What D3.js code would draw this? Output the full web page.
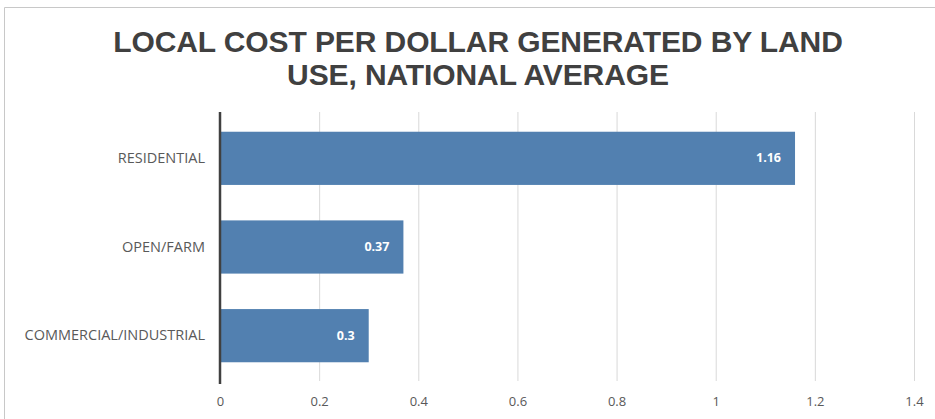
<!DOCTYPE html>
<meta charset="utf-8">
<style>
body { margin: 0; background: #fff; }
.cat text { font-family: "Open Sans", "Noto Sans", sans-serif; font-size: 14.5px; fill: #595959; }
.val text { font-family: "Open Sans", "Noto Sans", sans-serif; font-size: 13px; fill: #595959; }
.title { font-family: "Liberation Sans", Arial, sans-serif; font-weight: bold; font-size: 30px; fill: #404040; letter-spacing: -0.1px; }
.barlabel { font-family: "Open Sans", sans-serif; font-weight: bold; font-size: 12.5px; fill: #fff; }
</style>
<body>
<script src="https://cdn.jsdelivr.net/npm/d3@7"></script>
<script>

var width = 935,
    height = 419;

var categories = ["RESIDENTIAL", "OPEN/FARM", "COMMERCIAL/INDUSTRIAL"];
var values = [1.16, 0.37, 0.3];
var ticks = [0, 0.2, 0.4, 0.6, 0.8, 1, 1.2, 1.4];
var titleLines = ["LOCAL COST PER DOLLAR GENERATED BY LAND", "USE, NATIONAL AVERAGE"];

var svg = d3.select("body").append("svg")
    .attr("width", width)
    .attr("height", height);

// frame of the chart area
svg.append("path")
    .attr("d", "M4.5," + height + "V7.5H" + width)
    .attr("fill", "none")
    .attr("stroke", "#c8c8c8");

svg.selectAll(".title")
  .data(titleLines)
  .enter().append("text")
    .attr("class", "title")
    .attr("x", 478)
    .attr("y", function(d, i){ return 52 + i * 33; })
    .attr("text-anchor", "middle")
    .text(function(d){ return d; });

var x = d3.scaleLinear().domain([0, 1.4]).range([220, 914]);
var y = d3.scaleBand().domain(categories).range([114, 380]).paddingInner(0.4).paddingOuter(0.2);

// gridlines
svg.append("g").selectAll("line")
  .data(ticks.slice(1))
  .enter().append("line")
    .attr("x1", function(d){ return x(d) + 0.5; })
    .attr("x2", function(d){ return x(d) + 0.5; })
    .attr("y1", 112)
    .attr("y2", 381)
    .attr("stroke", "#d9d9d9");

var xAxis = svg.append("g")
    .attr("class", "val")
    .attr("transform", "translate(0,381)")
    .call(d3.axisBottom(x).tickValues(ticks).tickSize(0).tickPadding(16)
      .tickFormat(function(d){ return String(d); }));
xAxis.select(".domain").remove();

svg.selectAll(".bar")
  .data(values)
  .enter().append("rect")
    .attr("class", "bar")
    .attr("x", x(0))
    .attr("y", function(d, i){ return y(categories[i]); })
    .attr("width", function(d){ return x(d) - x(0); })
    .attr("height", y.bandwidth())
    .attr("fill", "#5280b0");

svg.selectAll(".barlabel")
  .data(values)
  .enter().append("text")
    .attr("class", "barlabel")
    .attr("x", function(d){ return x(d) - 14; })
    .attr("y", function(d, i){ return y(categories[i]) + y.bandwidth() / 2 + 4; })
    .attr("text-anchor", "end")
    .text(function(d){ return d; });

var yAxis = svg.append("g")
    .attr("class", "cat")
    .attr("transform", "translate(220,0)")
    .call(d3.axisLeft(y).tickSize(0).tickPadding(15));
yAxis.select(".domain").remove();

svg.append("line")
    .attr("x1", x(0)).attr("x2", x(0))
    .attr("y1", 112).attr("y2", 384)
    .attr("stroke", "#404040")
    .attr("stroke-width", 2.5);

</script>
</body>
